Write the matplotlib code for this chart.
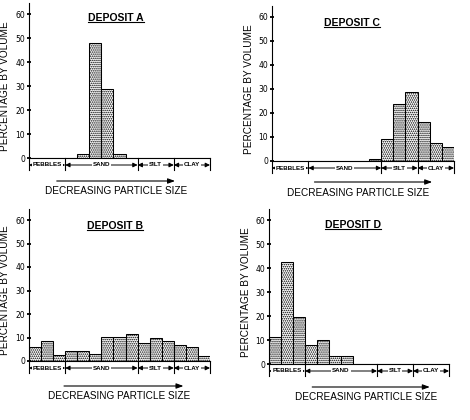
import matplotlib
matplotlib.use('Agg')
import matplotlib.pyplot as plt
from matplotlib.lines import Line2D
import numpy as np

# ---------------- data ----------------
n_bins = 15
deposit_a = [0, 0, 0, 0, 1.7, 47.8, 28.7, 1.7, 0, 0, 0, 0, 0, 0, 0]
deposit_b = [5.9, 8.5, 2.5, 4.2, 4.2, 3.0, 10.2, 10.2, 11.5, 7.6, 9.8, 8.5, 6.8, 5.9, 2.1]
deposit_c = [0, 0, 0, 0, 0, 0, 0, 0, 0.8, 9.1, 23.6, 28.6, 16.2, 7.5, 5.9]
deposit_d = [11.1, 42.5, 19.4, 7.8, 9.9, 3.2, 3.2, 0, 0, 0, 0, 0, 0, 0, 0]
titles = ["DEPOSIT A", "DEPOSIT B", "DEPOSIT C", "DEPOSIT D"]
cat_names = ["PEBBLES", "SAND", "SILT", "CLAY"]
cat_bins = [3, 6, 3, 3]
yticks = [0, 10, 20, 30, 40, 50, 60]
ylabel = "PERCENTAGE BY VOLUME"
xlabel = "DECREASING PARTICLE SIZE"

# ---------------- layout ----------------
W, H = 470, 420
YTOP = 64.5
FONT = "Liberation Sans"
plt.rcParams['hatch.linewidth'] = 0.75
plt.rcParams['font.family'] = [FONT, 'DejaVu Sans']

layouts = [
    dict(l=29, r=210, y0=158, y60=14, ax0=2.3, ax1=12.1, ady=23, lx=7.2, ldy=33, tx=7.2, ty=58.75, yl=19),
    dict(l=29, r=210, y0=361, y60=220, ax0=2.9, ax1=12.8, ady=25, lx=7.5, ldy=35, tx=7.1, ty=57.9, yl=19),
    dict(l=272, r=454, y0=161, y60=17, ax0=3.5, ax1=13.2, ady=21, lx=7.1, ldy=32, tx=6.6, ty=57.9, yl=18),
    dict(l=269, r=449, y0=364, y60=220, ax0=3.6, ax1=13.4, ady=23, lx=8.1, ldy=33, tx=7.0, ty=58.3, yl=18),
]
series = [deposit_a, deposit_b, deposit_c, deposit_d]

fig = plt.figure(figsize=(W / 100, H / 100), dpi=100)
fig.patch.set_facecolor('white')
renderer = fig.canvas.get_renderer()

for lay, vals, title in zip(layouts, series, titles):
    ppu = (lay['y0'] - lay['y60']) / 60.0
    top = lay['y0'] - YTOP * ppu
    ax = fig.add_axes([lay['l'] / W, 1 - lay['y0'] / H, (lay['r'] - lay['l']) / W,
                       (lay['y0'] - top) / H])
    ax.set_xlim(0, n_bins)
    ax.set_ylim(0, YTOP)
    ax.patch.set_alpha(0)
    x = np.arange(n_bins) + 0.5
    ax.bar(x, vals, width=1.0, facecolor='white', edgecolor='black',
           linewidth=0.75, hatch='........')
    for s in ['top', 'right']:
        ax.spines[s].set_visible(False)
    for s in ['left', 'bottom']:
        ax.spines[s].set_linewidth(0.8)
    ax.set_xticks([])
    ax.set_yticks(yticks)
    ax.tick_params(axis='y', direction='inout', length=3.5, width=1.3, pad=1.2,
                   labelsize=5.5)
    for lbl in ax.get_yticklabels():
        lbl.set_fontfamily('DejaVu Sans')
    ax.set_ylabel(ylabel, fontsize=7.2, fontfamily=FONT)
    ax.yaxis.set_label_coords(-lay['yl'] / (lay['r'] - lay['l']), 30 / YTOP)

    # title with underline
    base = lay['ty'] - 3.65 / ppu
    t = ax.text(lay['tx'], base, title, ha='center', va='baseline', fontsize=7.5,
                fontweight='bold', fontfamily=FONT)
    bb = t.get_window_extent(renderer)
    inv = ax.transData.inverted()
    (x0, _), (x1, _) = inv.transform([(bb.x0, 0), (bb.x1, 0)])
    uy = base - 1.6 / ppu
    ax.add_line(Line2D([x0, x1], [uy, uy], color='black', lw=0.8, clip_on=False))

    # category row
    row_y = -7.0 / ppu
    tick_bot = -12.0 / ppu
    edges = np.concatenate([[0], np.cumsum(cat_bins)])
    for e in edges:
        ax.add_line(Line2D([e, e], [0, tick_bot], color='black', lw=0.8, clip_on=False))
    for name, a, b in zip(cat_names, edges[:-1], edges[1:]):
        c = (a + b) / 2
        for tip in (a, b):
            ax.annotate('', xy=(tip, row_y), xytext=(c, row_y), annotation_clip=False,
                        arrowprops=dict(arrowstyle='-|>,head_length=0.45,head_width=0.22',
                                        mutation_scale=6, lw=0.7, color='black',
                                        shrinkA=0, shrinkB=0))
        ax.text(c, row_y, name, ha='center', va='center', fontsize=4.5,
                fontweight='bold', fontfamily=FONT, clip_on=False,
                bbox=dict(boxstyle='square,pad=0.15', fc='white', ec='none'))

    # decreasing particle size arrow + label
    ay = -lay['ady'] / ppu
    ax.annotate('', xy=(lay['ax1'], ay), xytext=(lay['ax0'], ay), annotation_clip=False,
                arrowprops=dict(arrowstyle='-|>,head_length=0.6,head_width=0.22',
                                mutation_scale=7, lw=0.8, color='black',
                                shrinkA=0, shrinkB=0))
    ax.text(lay['lx'], -lay['ldy'] / ppu, xlabel, ha='center', va='center',
            fontsize=7.2, fontfamily=FONT, clip_on=False)

fig.savefig('out.png', dpi=100, facecolor='white')
